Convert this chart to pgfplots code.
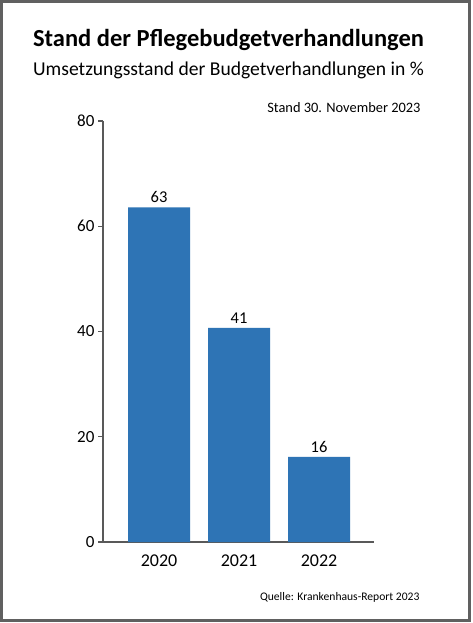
\documentclass[border=0pt]{standalone}
\usepackage{fontspec}
\setmainfont{Carlito}
\usepackage{pgfplots}
\pgfplotsset{compat=1.18}
\definecolor{barblue}{RGB}{46,116,181}
\definecolor{axisgray}{RGB}{89,89,89}
\begin{document}
\begin{tikzpicture}[x=1pt,y=1pt]
% frame
\fill[white] (0,0) rectangle (472,-623);
\draw[gray!75!black, line width=3pt] (1.5,-1.5) rectangle (469.5,-620);
% titles
\node[anchor=base, font=\bfseries\fontsize{24.5}{28}\selectfont] at (228.5,-47) {Stand der Pflegebudgetverhandlungen};
\node[anchor=base, font=\fontsize{19.6}{23}\selectfont] at (228.5,-76) {Umsetzungsstand der Budgetverhandlungen in \%};
\node[anchor=base east, font=\fontsize{14.4}{17}\selectfont] at (424,-113) {Stand 30. November 2023};
\node[anchor=base east, font=\fontsize{11.6}{14}\selectfont] at (423,-600) {Quelle: Krankenhaus-Report 2023};
\begin{axis}[
    at={(103pt,-542pt)}, anchor=south west,
    scale only axis,
    width=271pt, height=421pt,
    axis lines=left,
    axis line style={-, axisgray, line width=1.3pt},
    xmin=-0.7, xmax=2.6875,
    ymin=0, ymax=80,
    ytick={0,20,40,60,80},
    xtick=data,
    xticklabels={2020,2021,2022},
    x tick label style={font=\fontsize{18}{20}\selectfont, yshift=-4pt},
    y tick label style={font=\fontsize{17}{19}\selectfont},
    major tick length=5pt,
    tick align=outside,
    tick style={axisgray, line width=1.1pt},
    xtick style={draw=none},
    /pgf/number format/assume math mode=true,
    ybar, bar width=0.775,
    point meta=explicit symbolic,
    nodes near coords,
    every node near coord/.append style={font=\fontsize{16.5}{18}\selectfont, black, yshift=1pt},
]
\addplot[fill=barblue, draw=none] coordinates {
    (0,63.6) [63]
    (1,40.7) [41]
    (2,16.2) [16]
};
\end{axis}
\end{tikzpicture}
\end{document}
